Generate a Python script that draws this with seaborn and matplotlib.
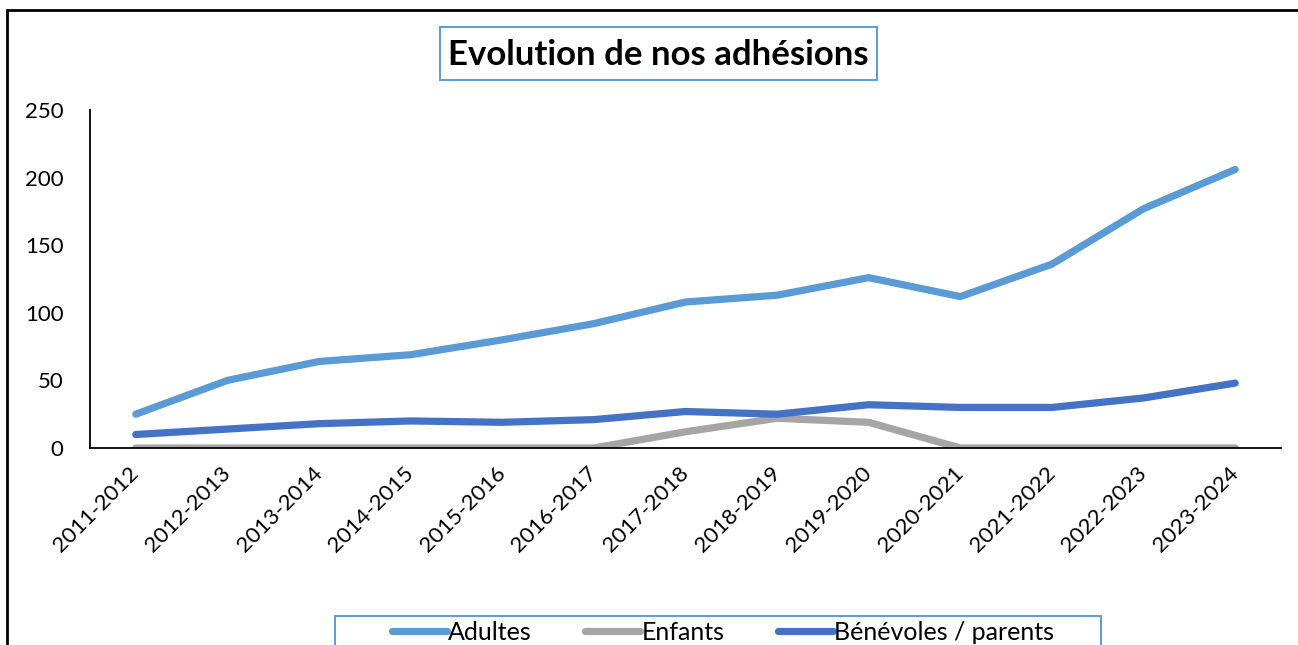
import matplotlib
matplotlib.use("Agg")
import matplotlib.pyplot as plt
import seaborn as sns
import pandas as pd
from matplotlib.patches import Rectangle

# data
saisons = ["2011-2012", "2012-2013", "2013-2014", "2014-2015", "2015-2016",
           "2016-2017", "2017-2018", "2018-2019", "2019-2020", "2020-2021",
           "2021-2022", "2022-2023", "2023-2024"]
adultes = [25, 50, 64, 69, 80, 92, 108, 113, 126, 112, 136, 177, 206]
enfants = [0, 0, 0, 0, 0, 0, 12, 22, 19, 0, 0, 0, 0]
benevoles = [10, 14, 18, 20, 19, 21, 27, 25, 32, 30, 30, 37, 48]

series = ["Adultes", "Enfants", "Bénévoles / parents"]
couleurs = ["#5B9BD5", "#A5A5A5", "#4472C4"]

df = pd.DataFrame({
    "saison": saisons * 3,
    "valeur": adultes + enfants + benevoles,
    "serie": [s for s in series for _ in saisons],
})

sns.set_theme(style="white")
plt.rcParams["font.family"] = ["Lato", "DejaVu Sans"]
plt.rcParams["text.color"] = "black"

W, H = 1298, 645
fig = plt.figure(figsize=(W / 100, H / 100), dpi=100)
ax = fig.add_axes([90 / W, 1 - 448 / H, (1281 - 90) / W, (448 - 110) / H])

sns.lineplot(data=df, x="saison", y="valeur", hue="serie", hue_order=series,
             palette=couleurs, linewidth=5.2, sort=False, ax=ax, legend=True)
for ln in ax.lines:
    ln.set_solid_capstyle("round")
    ln.set_solid_joinstyle("round")

ax.set_xlim(-0.5, len(saisons) - 0.5)
ax.set_ylim(0, 250)
ax.set_yticks([0, 50, 100, 150, 200, 250])
ax.set_xlabel("")
ax.set_ylabel("")
for side in ["top", "right"]:
    ax.spines[side].set_visible(False)
for side in ["left", "bottom"]:
    ax.spines[side].set_color("black")
    ax.spines[side].set_linewidth(1.3)
ax.tick_params(axis="y", length=0, pad=19, labelsize=16, labelcolor="black")
ax.tick_params(axis="x", length=0, pad=16, labelsize=16, labelcolor="black")
plt.setp(ax.get_xticklabels(), rotation=45, ha="right", va="center",
         rotation_mode="anchor")

# legend at the bottom, frame drawn separately
handles, labels = ax.get_legend_handles_labels()
ax.legend_.remove()
leg = fig.legend(handles, labels, loc="center", ncol=3,
                 bbox_to_anchor=(723 / W, 1 - 632 / H),
                 frameon=False, fontsize=18,
                 handlelength=2.2, handletextpad=0.05, columnspacing=2.15,
                 borderpad=0.0)
for t in leg.get_texts():
    t.set_color("black")
for h in leg.get_lines():
    h.set_linewidth(5.2)
    h.set_solid_capstyle("round")
fig.patches.append(Rectangle((335 / W, -0.05), (1101 - 335) / W, 0.05 + 1 - 616 / H,
                             transform=fig.transFigure, fill=False,
                             edgecolor="#5B9BD5", linewidth=1.4))

# title in a box
fig.text(658 / W, 1 - 55 / H, "Evolution de nos adhésions",
         ha="center", va="center", fontsize=25, fontweight="bold", color="black")
fig.patches.append(Rectangle((440 / W, 1 - 80 / H), (877 - 440) / W, (80 - 27) / H,
                             transform=fig.transFigure, fill=False,
                             edgecolor="#5B9BD5", linewidth=1.4))

# outer frame of the chart area
fig.patches.append(Rectangle((7 / W, -0.1), 1.2, 1.1 - 10 / H,
                             transform=fig.transFigure, fill=False,
                             edgecolor="black", linewidth=2))

fig.savefig("out.png", dpi=100)
